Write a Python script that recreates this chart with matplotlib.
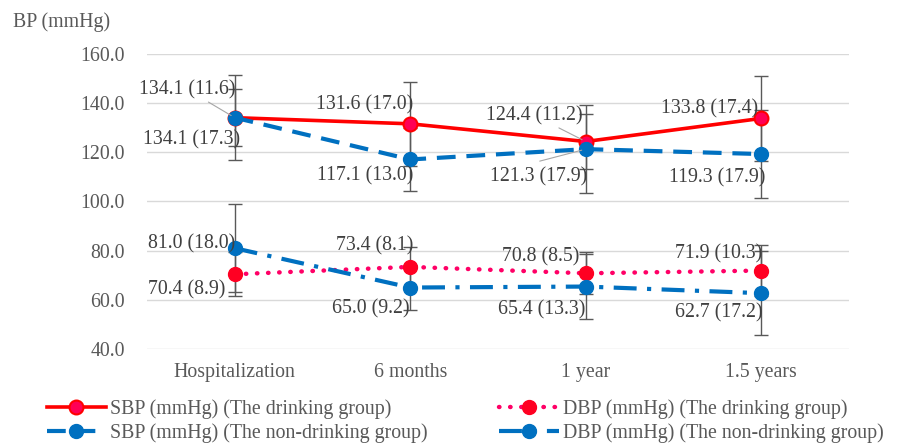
import numpy as np
import matplotlib
matplotlib.use("Agg")
from matplotlib import pyplot as plt

# data
categories = ["Hospitalization", "6 months", "1 year", "1.5 years"]
sbp_drink = [134.1, 131.6, 124.4, 133.8]
sbp_drink_sd = [11.6, 17.0, 11.2, 17.4]
sbp_nodrink = [134.1, 117.1, 121.3, 119.3]
sbp_nodrink_sd = [17.3, 13.0, 17.9, 17.9]
dbp_drink = [70.4, 73.4, 70.8, 71.9]
dbp_drink_sd = [8.9, 8.1, 8.5, 10.3]
dbp_nodrink = [81.0, 65.0, 65.4, 62.7]
dbp_nodrink_sd = [18.0, 9.2, 13.3, 17.2]
yticks = [40, 60, 80, 100, 120, 140, 160]

# label offsets in pixels (dx of right edge, dy of centre; +dy is down)
off_sbp_drink = [(1, -28), (3, -19), (-3, -26), (-3, -10)]
off_sbp_nodrink = [(5, 22), (3, 16), (1, 28), (4, 24)]
off_dbp_drink = [(-9, 16), (3, -21), (-6, -16), (1, -17)]
off_dbp_nodrink = [(1, -4), (-1, 21), (0, 23), (1, 20)]
leader_sbp_drink = [True, False, True, False]

plt.rcParams["font.family"] = ["Liberation Serif", "DejaVu Serif"]
txt = "#595959"
lab = "#404040"
fs = 14.3

fig = plt.figure(figsize=(8.98, 4.44), dpi=100)
ax = fig.add_axes([147 / 898, 1 - 349 / 444, 702 / 898, 295 / 444])
x = np.arange(len(categories))

blue = "#0070C0"
red = "#FF0000"
pink = "#FF0066"

series = [
    (sbp_drink, sbp_drink_sd, dict(color=red, ls="-", lw=2.6, marker="o", ms=10,
                                   mfc="#FF0055", mec=red, mew=1.5),
     "SBP (mmHg) (The drinking group)", off_sbp_drink, leader_sbp_drink),
    (sbp_nodrink, sbp_nodrink_sd, dict(color=blue, ls=(0, (4.5, 2.6)), lw=3, marker="o", ms=10,
                                       mfc=blue, mec=blue),
     "SBP (mmHg) (The non-drinking group)", off_sbp_nodrink, None),
    (dbp_drink, dbp_drink_sd, dict(color=pink, ls=(0, (0.1, 2.4)), lw=3.2, dash_capstyle="round",
                                   marker="o", ms=10, mfc="#FF0022", mec="#FF0022"),
     "DBP (mmHg) (The drinking group)", off_dbp_drink, None),
    (dbp_nodrink, dbp_nodrink_sd, dict(color=blue, ls=(0, (5.5, 2.5, 1, 2.5)), lw=3, marker="o", ms=10,
                                       mfc=blue, mec=blue),
     "DBP (mmHg) (The non-drinking group)", off_dbp_nodrink, None),
]

handles = []
for vals, sds, style, name, offs, leaders in series:
    ax.errorbar(x, vals, yerr=sds, fmt="none", ecolor="#595959", elinewidth=1,
                capsize=5, capthick=1, zorder=2)
    h, = ax.plot(x, vals, label=name, zorder=3, **style)
    handles.append(h)
    for i, v in enumerate(vals):
        sd = sds[i]
        dx, dy = offs[i]
        arrow = None
        if leaders is not None and leaders[i]:
            arrow = dict(arrowstyle="-", color="#A6A6A6", lw=0.8, shrinkA=0, shrinkB=3)
        ax.annotate(f"{v:.1f} ({sd:.1f})", xy=(i, v), xytext=(dx, -dy),
                    textcoords="offset pixels", ha="right", va="center",
                    fontsize=fs, color=lab, arrowprops=arrow, zorder=4)

# leader line for the non-drinking 1 year label
ax.annotate("", xy=(2, sbp_nodrink[2]), xytext=(-46, -12), textcoords="offset pixels",
            arrowprops=dict(arrowstyle="-", color="#A6A6A6", lw=0.8, shrinkA=0, shrinkB=3))

ax.set_xlim(-0.5, 3.5)
ax.set_ylim(40, 160)
ax.set_yticks(yticks)
ax.set_yticklabels([f"{t:.1f}" for t in yticks])
ax.set_xticks(x)
ax.set_xticklabels(categories)
ax.tick_params(axis="both", length=0, labelsize=fs, labelcolor=txt)
ax.tick_params(axis="y", pad=16)
ax.tick_params(axis="x", pad=10)
ax.grid(axis="y", color="#D9D9D9", lw=1)
ax.set_axisbelow(True)
for s in ax.spines.values():
    s.set_visible(False)

fig.text(13 / 898, 1 - 22 / 444, "BP (mmHg)", fontsize=fs, color=txt, va="center", ha="left")

leg = fig.legend(handles=handles, loc="center", bbox_to_anchor=(0.518, 0.052), ncol=2,
                 frameon=False, fontsize=fs, handlelength=3.0, handletextpad=0.2,
                 columnspacing=3.6, labelspacing=0.2, borderpad=0)
for t in leg.get_texts():
    t.set_color(txt)

fig.savefig("out.png", dpi=100)
